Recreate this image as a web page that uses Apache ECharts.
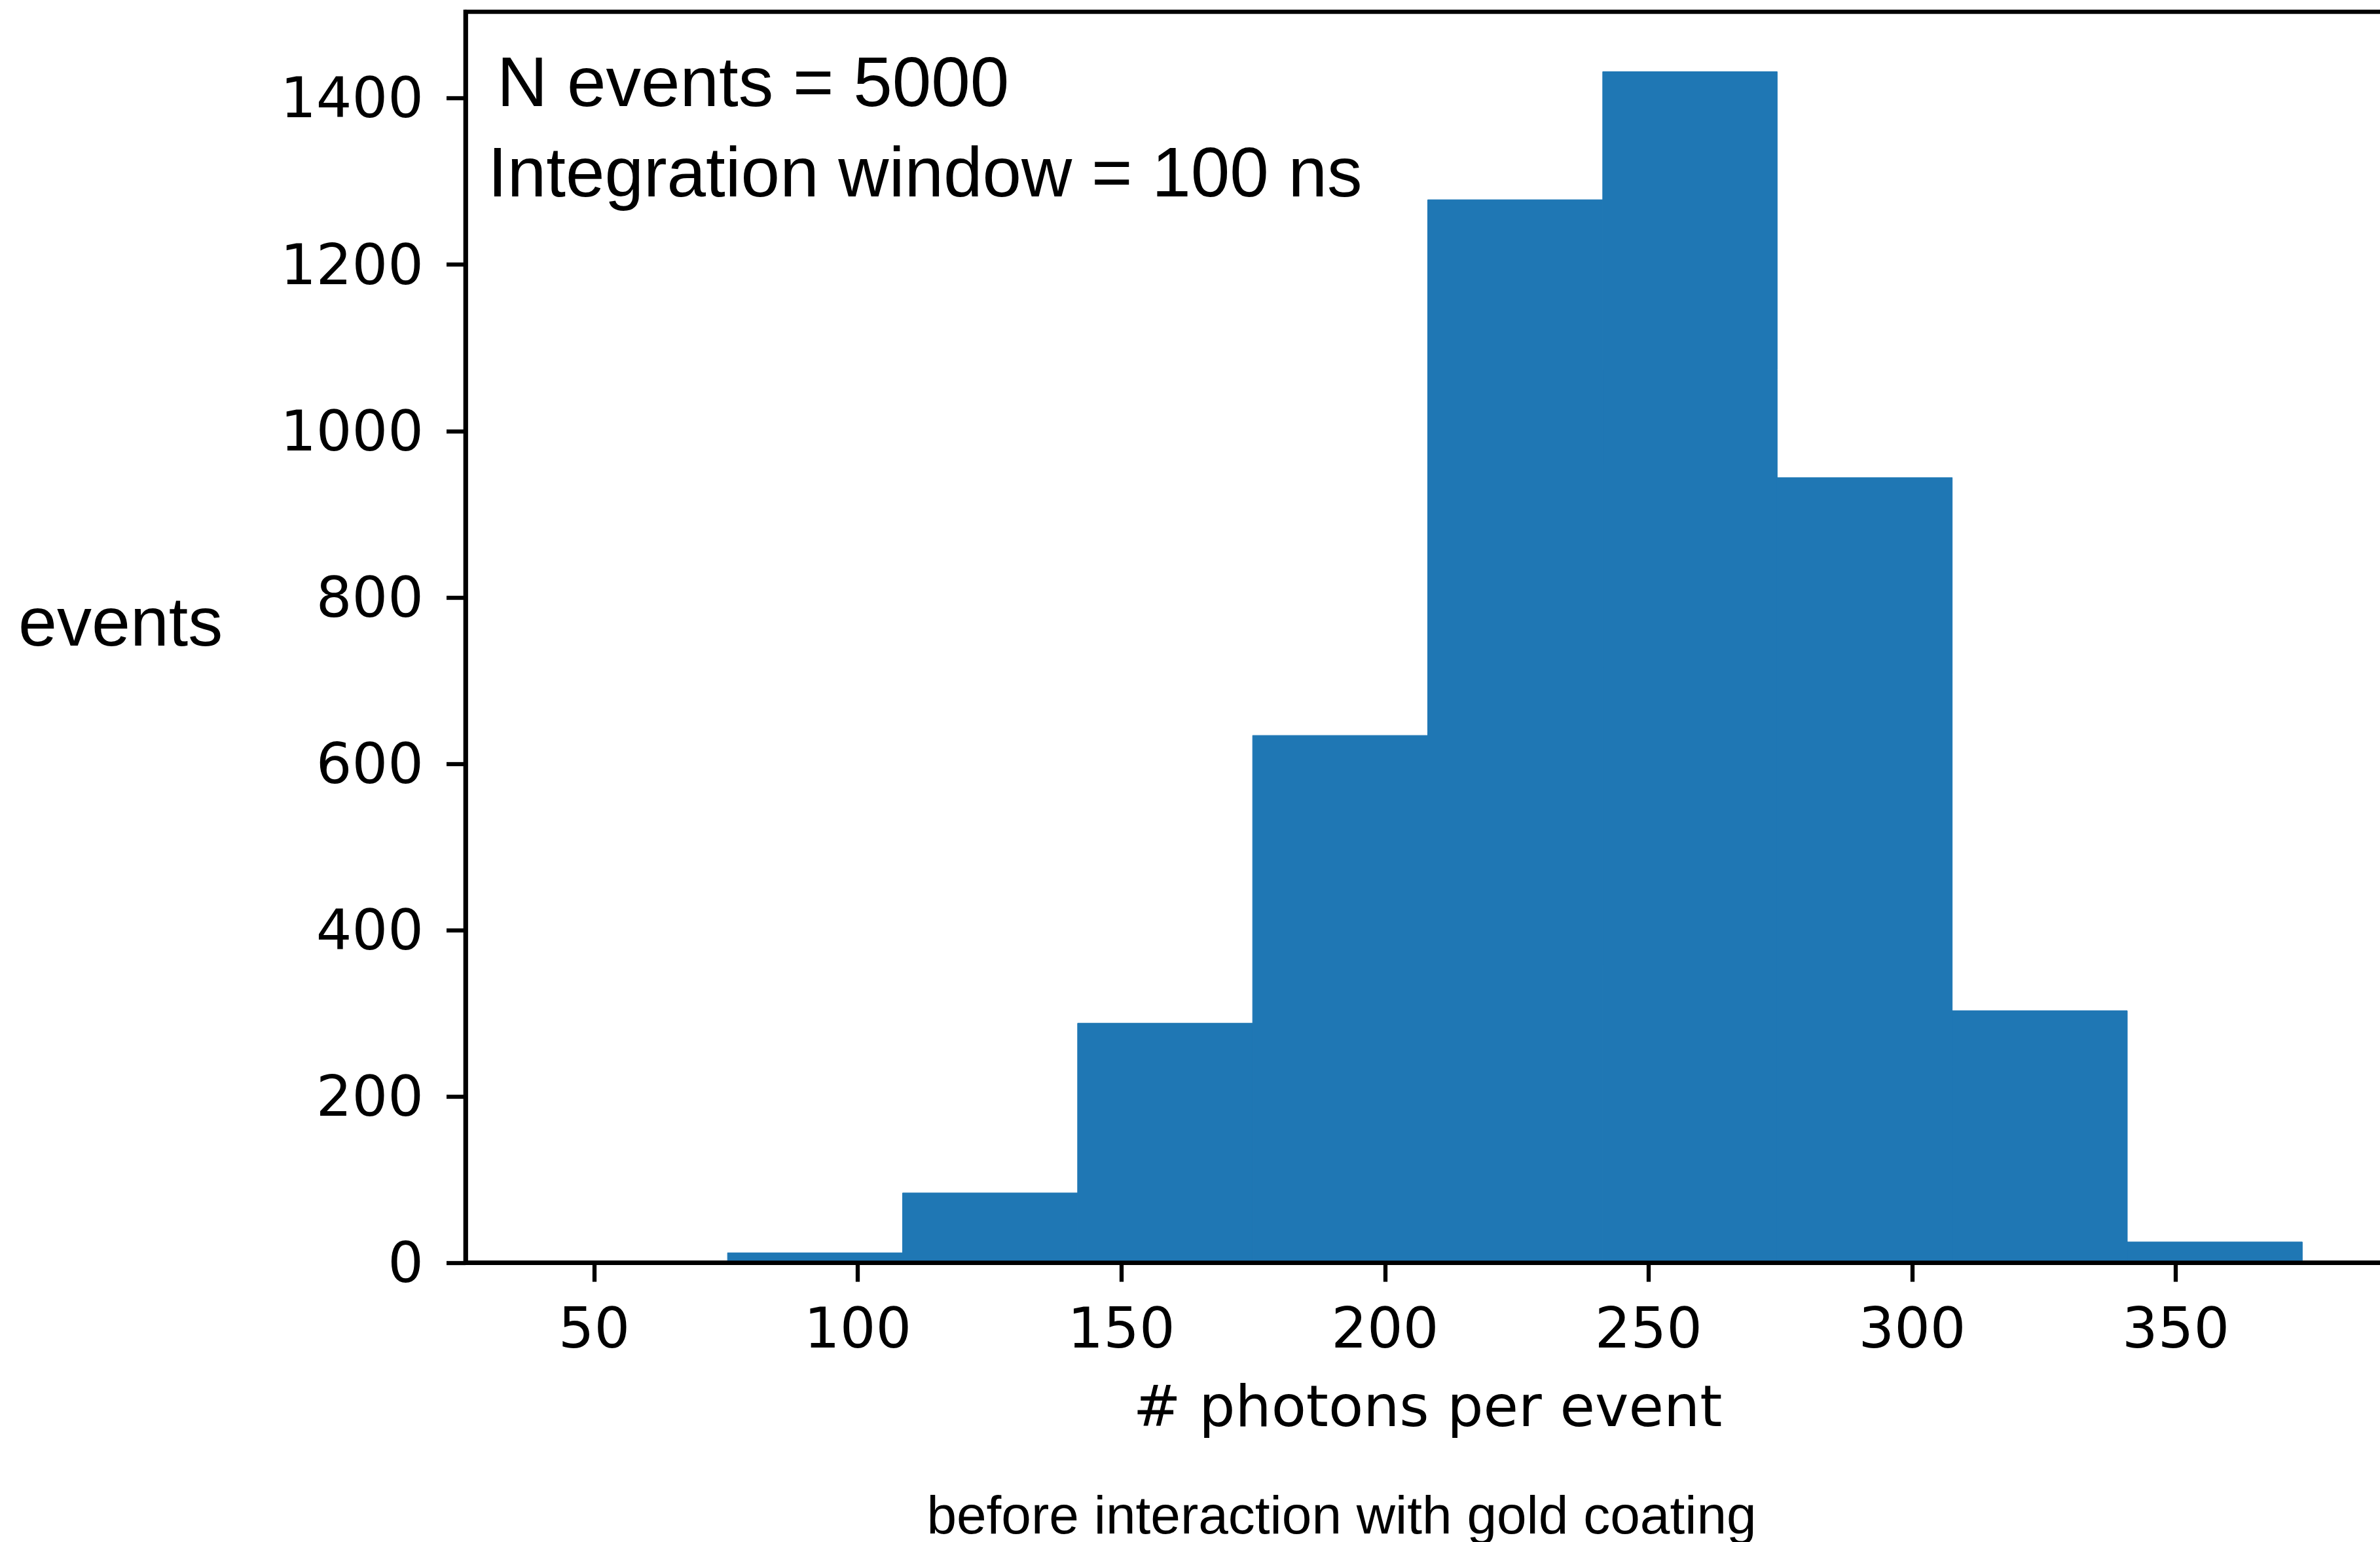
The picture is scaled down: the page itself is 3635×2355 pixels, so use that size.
<!DOCTYPE html>
<html>
<head>
<meta charset="utf-8">
<script src="https://cdn.jsdelivr.net/npm/echarts@6/dist/echarts.min.js"></script>
<style>
  html, body { margin: 0; padding: 0; background: #ffffff; }
  #chart { width: 3635px; height: 2355px; }
</style>
</head>
<body>
<div id="chart"></div>
<script>
// Histogram of photons per event (bin edges and counts per bin)
const binEdges = [75.3, 108.5, 141.7, 174.9, 208.1, 241.3, 274.4, 307.6, 340.8, 374.0];
const counts = [12, 84, 288, 634, 1278, 1432, 944, 303, 25];

// Tick values shown on each axis
const xTicks = [50, 100, 150, 200, 250, 300, 350];
const yTicks = [0, 200, 400, 600, 800, 1000, 1200, 1400];

// Text
const xTitle = '# photons per event';
const yTitle = 'events';
const infoLines = ['N events = 5000', 'Integration window = 100 ns'];
const caption = 'before interaction with gold coating';

const bins = counts.map((c, i) => [binEdges[i], binEdges[i + 1], c]);

const tickFont = 'DejaVu Sans';
const textFont = '"Liberation Sans", Arial, Helvetica, sans-serif';
const barColor = '#1f77b4';
const spine = 6.7;

const chart = echarts.init(document.getElementById('chart'), null, { renderer: 'canvas' });

chart.setOption({
  animation: false,
  backgroundColor: '#ffffff',
  grid: {
    left: 711, top: 18, width: 2939, height: 1910.6,
    outerBoundsMode: 'none', containLabel: false,
    show: true, borderColor: '#000', borderWidth: spine, backgroundColor: 'transparent'
  },
  xAxis: {
    type: 'value', min: 25.6, max: 390.6, z: 10,
    name: xTitle, nameLocation: 'middle', nameGap: 183,
    nameTextStyle: { fontFamily: tickFont, fontSize: 87, color: '#000' },
    axisLine: { show: true, lineStyle: { color: '#000', width: spine } },
    axisTick: { show: true, inside: false, length: 29, customValues: xTicks, lineStyle: { color: '#000', width: 6.3 } },
    axisLabel: { customValues: xTicks, margin: 64, fontFamily: tickFont, fontSize: 86, color: '#000',
      formatter: v => String(v) },
    splitLine: { show: false }
  },
  yAxis: {
    type: 'value', min: 0, max: 1504, z: 10,
    axisLine: { show: true, onZero: false, lineStyle: { color: '#000', width: spine } },
    axisTick: { show: true, inside: false, length: 29, customValues: yTicks, lineStyle: { color: '#000', width: 6.3 } },
    axisLabel: {
      customValues: yTicks, margin: 64, color: '#000',
      formatter: v => '{t|' + v + '}',
      rich: { t: { fontFamily: tickFont, fontSize: 86, color: '#000', padding: [14, 0, 0, 0] } }
    },
    splitLine: { show: false }
  },
  series: [{
    type: 'custom',
    z: 1,
    data: bins,
    renderItem: function (params, api) {
      const topLeft = api.coord([api.value(0), api.value(2)]);
      const bottomRight = api.coord([api.value(1), 0]);
      return {
        type: 'rect',
        shape: {
          x: topLeft[0], y: topLeft[1],
          width: bottomRight[0] - topLeft[0],
          height: bottomRight[1] - topLeft[1]
        },
        // thin same-colour outline closes the anti-aliasing seams between adjacent bins
        style: { fill: barColor, stroke: barColor, lineWidth: 1 }
      };
    }
  }],
  graphic: [
    { type: 'text', left: 759, top: 79, style: { text: infoLines[0], font: '107px ' + textFont, fill: '#000', verticalAlign: 'top' } },
    { type: 'text', left: 745, top: 217, style: { text: infoLines[1], font: '107px ' + textFont, fill: '#000', verticalAlign: 'top' } },
    { type: 'text', left: 28, top: 904, style: { text: yTitle, font: '106px ' + textFont, fill: '#000', verticalAlign: 'top' } },
    { type: 'text', x: 2049, y: 2319, style: { text: caption, font: '82px ' + textFont, fill: '#000', align: 'center', verticalAlign: 'middle' } }
  ]
});
</script>
</body>
</html>
